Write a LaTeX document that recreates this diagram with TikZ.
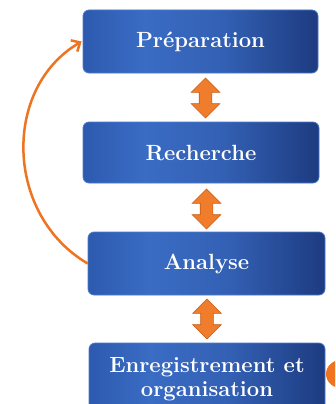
\documentclass[tikz,border=0pt]{standalone}
\usetikzlibrary{shapes.arrows,arrows.meta}
\definecolor{bedge}{HTML}{2D5AAF}
\definecolor{blight}{HTML}{3A6CC4}
\definecolor{bdark}{HTML}{1D3B80}
\definecolor{bline}{HTML}{4C7ACB}
\definecolor{ofill}{HTML}{F07D2C}
\definecolor{oline}{HTML}{C95A16}
\definecolor{ocurve}{HTML}{EE7421}
\pgfdeclarehorizontalshading{boxshade}{100bp}{color(0bp)=(bedge); color(25bp)=(bedge); color(38bp)=(blight); color(55bp)=(blight!75!bdark); color(75bp)=(bdark); color(100bp)=(bdark)}
\tikzset{
  stagebox/.style={shading=boxshade, draw=bline, line width=0.7pt, rounded corners=6pt,
    text=white, font=\fontsize{22}{24}\selectfont\bfseries, align=center, inner sep=0pt},
  dblarrow/.style={double arrow, rotate=90, fill=ofill, draw=oline, line width=0.6pt,
    minimum height=40pt, minimum width=28pt, double arrow head extend=8pt, inner sep=6pt},
  loopline/.style={draw=ocurve, line width=2.5pt, -{Straight Barb[length=7pt,width=13pt,line width=2.5pt]}}
}
\begin{document}
\begin{tikzpicture}[x=1pt,y=-1pt]
\useasboundingbox (0,0) rectangle (335,404);
\clip (0,0) rectangle (335,404);
\fill[white] (0,0) rectangle (335,404);
\node[stagebox, minimum width=235pt, minimum height=63pt] (b1) at (200.5,41.5) {Préparation};
\node[stagebox, minimum width=236pt, minimum height=61pt] (b2) at (201,152.5) {Recherche};
\node[stagebox, minimum width=237pt, minimum height=63pt] (b3) at (206.5,263.5) {Analyse};
\node[stagebox, minimum width=236pt, minimum height=72pt] (b4) at (207,379) {Enregistrement et\\organisation};
\node[dblarrow] (a1) at (205.5,98) {};
\node[dblarrow] (a2) at (206.5,209) {};
\node[dblarrow] (a3) at (207,319) {};
\draw[loopline] (b3.west) .. controls (5,215) and (2,88) .. ([xshift=-1pt]b1.west);
\coordinate (blobc) at (341,374);
\fill[ocurve] (blobc) ellipse [x radius=15pt, y radius=14pt];
\end{tikzpicture}
\end{document}
